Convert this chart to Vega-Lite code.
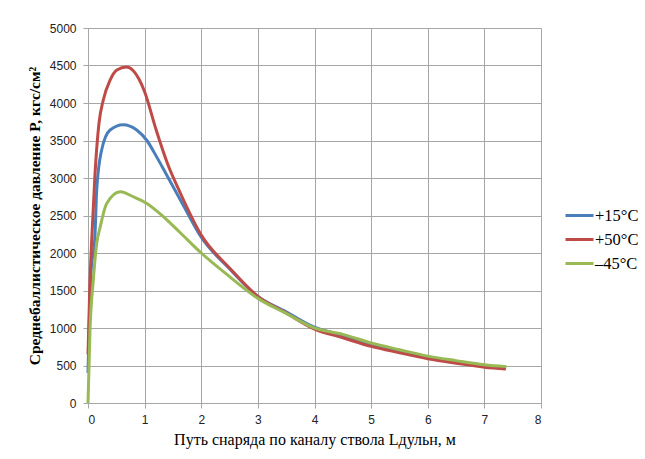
{
  "$schema": "https://vega.github.io/schema/vega-lite/v6.json",
  "autosize": {"type": "none"},
  "padding": {"left": 88, "top": 28, "right": 104, "bottom": 56},
  "width": 453,
  "height": 375,
  "background": "white",
  "data": {"values": [
    {"t": "+15°C", "x": 0, "p": 400},
    {"t": "+15°C", "x": 0.05, "p": 1700},
    {"t": "+15°C", "x": 0.124, "p": 2250},
    {"t": "+15°C", "x": 0.154, "p": 2840},
    {"t": "+15°C", "x": 0.24, "p": 3370},
    {"t": "+15°C", "x": 0.39, "p": 3640},
    {"t": "+15°C", "x": 0.62, "p": 3710},
    {"t": "+15°C", "x": 0.86, "p": 3640},
    {"t": "+15°C", "x": 1.04, "p": 3500},
    {"t": "+15°C", "x": 1.21, "p": 3285},
    {"t": "+15°C", "x": 1.39, "p": 3040},
    {"t": "+15°C", "x": 1.68, "p": 2640},
    {"t": "+15°C", "x": 2, "p": 2210},
    {"t": "+15°C", "x": 2.5, "p": 1790},
    {"t": "+15°C", "x": 3, "p": 1420},
    {"t": "+15°C", "x": 3.5, "p": 1215},
    {"t": "+15°C", "x": 4, "p": 1010},
    {"t": "+15°C", "x": 4.5, "p": 900},
    {"t": "+15°C", "x": 5, "p": 785},
    {"t": "+15°C", "x": 5.5, "p": 695},
    {"t": "+15°C", "x": 6, "p": 610},
    {"t": "+15°C", "x": 6.5, "p": 550},
    {"t": "+15°C", "x": 7, "p": 495},
    {"t": "+15°C", "x": 7.38, "p": 470},
    {"t": "+50°C", "x": 0, "p": 650},
    {"t": "+50°C", "x": 0.03, "p": 1500},
    {"t": "+50°C", "x": 0.065, "p": 2170},
    {"t": "+50°C", "x": 0.124, "p": 3060},
    {"t": "+50°C", "x": 0.194, "p": 3730},
    {"t": "+50°C", "x": 0.27, "p": 4040},
    {"t": "+50°C", "x": 0.39, "p": 4305},
    {"t": "+50°C", "x": 0.51, "p": 4440},
    {"t": "+50°C", "x": 0.68, "p": 4480},
    {"t": "+50°C", "x": 0.8, "p": 4430},
    {"t": "+50°C", "x": 0.9, "p": 4320},
    {"t": "+50°C", "x": 1.0, "p": 4150},
    {"t": "+50°C", "x": 1.2, "p": 3650},
    {"t": "+50°C", "x": 1.4, "p": 3200},
    {"t": "+50°C", "x": 1.63, "p": 2800},
    {"t": "+50°C", "x": 2, "p": 2240},
    {"t": "+50°C", "x": 2.5, "p": 1800},
    {"t": "+50°C", "x": 3, "p": 1420},
    {"t": "+50°C", "x": 3.5, "p": 1200},
    {"t": "+50°C", "x": 4, "p": 985},
    {"t": "+50°C", "x": 4.5, "p": 870},
    {"t": "+50°C", "x": 5, "p": 755},
    {"t": "+50°C", "x": 5.5, "p": 670},
    {"t": "+50°C", "x": 6, "p": 590},
    {"t": "+50°C", "x": 6.5, "p": 530},
    {"t": "+50°C", "x": 7, "p": 478},
    {"t": "+50°C", "x": 7.38, "p": 453},
    {"t": "–45°C", "x": 0, "p": 0},
    {"t": "–45°C", "x": 0.035, "p": 970},
    {"t": "–45°C", "x": 0.094, "p": 1640},
    {"t": "–45°C", "x": 0.154, "p": 2130},
    {"t": "–45°C", "x": 0.21, "p": 2330},
    {"t": "–45°C", "x": 0.33, "p": 2660},
    {"t": "–45°C", "x": 0.57, "p": 2817},
    {"t": "–45°C", "x": 0.8, "p": 2750},
    {"t": "–45°C", "x": 1.04, "p": 2660},
    {"t": "–45°C", "x": 1.33, "p": 2485},
    {"t": "–45°C", "x": 1.63, "p": 2270},
    {"t": "–45°C", "x": 2, "p": 2000},
    {"t": "–45°C", "x": 2.5, "p": 1685},
    {"t": "–45°C", "x": 3, "p": 1395},
    {"t": "–45°C", "x": 3.5, "p": 1195},
    {"t": "–45°C", "x": 4, "p": 1000},
    {"t": "–45°C", "x": 4.5, "p": 915},
    {"t": "–45°C", "x": 5, "p": 800},
    {"t": "–45°C", "x": 5.5, "p": 710},
    {"t": "–45°C", "x": 6, "p": 625},
    {"t": "–45°C", "x": 6.5, "p": 565},
    {"t": "–45°C", "x": 7, "p": 510},
    {"t": "–45°C", "x": 7.39, "p": 485}
  ]},
  "mark": {"type": "line", "interpolate": "monotone", "strokeWidth": 3},
  "encoding": {
    "x": {
      "field": "x", "type": "quantitative",
      "scale": {"domain": [0, 8], "nice": false},
      "axis": {
        "values": [0, 1, 2, 3, 4, 5, 6, 7, 8],
        "labelPadding": 6,
        "title": "Путь  снаряда по каналу ствола Lдульн,  м",
        "titleFont": "Liberation Serif", "titleFontSize": 16, "titleFontWeight": "normal",
        "titleColor": "#000", "titlePadding": 6
      }
    },
    "y": {
      "field": "p", "type": "quantitative",
      "scale": {"domain": [0, 5000], "nice": false},
      "axis": {
        "values": [0, 500, 1000, 1500, 2000, 2500, 3000, 3500, 4000, 4500, 5000],
        "format": "d",
        "labelPadding": 7,
        "title": "Среднебаллистическое давление P, кгс/см²",
        "titleFont": "Liberation Serif", "titleFontSize": 15.5, "titleFontWeight": "bold",
        "titleColor": "#000", "titlePadding": 7
      }
    },
    "color": {
      "field": "t", "type": "nominal",
      "scale": {"domain": ["+15°C", "+50°C", "–45°C"], "range": ["#4a7ebb", "#be4b48", "#98b954"]},
      "legend": {
        "title": null, "orient": "none", "legendX": 476, "legendY": 172,
        "symbolType": "stroke", "symbolSize": 784, "symbolStrokeWidth": 3,
        "labelFont": "Liberation Serif", "labelFontSize": 16.5, "labelColor": "#000",
        "labelOffset": 0, "rowPadding": -4
      }
    }
  },
  "config": {
    "view": {"stroke": null},
    "axis": {
      "grid": true, "gridColor": "#a6a6a6", "gridWidth": 1,
      "domainColor": "#a6a6a6", "tickColor": "#a6a6a6", "tickSize": 5,
      "labelFont": "Liberation Sans", "labelFontSize": 12, "labelColor": "#222"
    }
  }
}
